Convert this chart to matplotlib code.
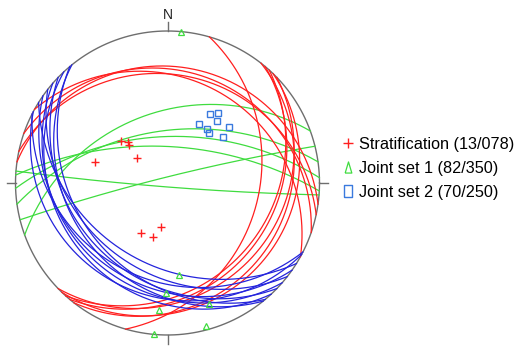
import numpy as np
import matplotlib.pyplot as plt
from matplotlib.lines import Line2D

plt.rcParams['font.family'] = ['Liberation Sans', 'DejaVu Sans']

# great circles: dip direction / dip (deg)
strat_dipdir = [8, 12, 19, 29, 106, 128, 130, 132, 134, 136]
strat_dip = [15, 19, 17, 21, 28, 14, 20, 22, 12, 17]
joint1_dipdir = [340, 346, 352, 358, 3, 184.5]
joint1_dip = [40, 85.5, 52, 56, 63, 87]
joint2_dipdir = [207, 208, 212, 215, 218, 221, 224, 227, 230, 231]
joint2_dip = [25, 17, 34, 22, 30, 20, 26, 18, 28, 24]

# poles: trend / plunge (deg)
strat_pole_trend = [312, 316, 315, 310, 286, 188, 208, 195]
strat_pole_plunge = [45, 48.6, 51, 60.8, 37.4, 57.4, 48.8, 49.8]
joint1_pole_trend = [5, 173, 181, 161, 184, 165, 185]
joint1_pole_plunge = [0, 27.4, 18, 10, 10.2, 1.4, 0]
joint2_pole_trend = [32, 36, 28, 38.6, 47.8, 36.1, 39.7, 50.5]
joint2_pole_plunge = [34, 30.8, 42.4, 34.8, 32.4, 42.8, 43.4, 39.2]

labels = ['Stratification (13/078)', 'Joint set 1 (82/350)', 'Joint set 2 (70/250)']

RED = '#ff1f1f'
GREEN = '#3fdc3f'
BLUE = '#2424dc'
BLUE_PT = '#3a7ade'
GRAY = '#6e6e6e'


def project(trend, plunge):
    # equal-angle (Wulff), lower hemisphere
    t = np.radians(trend)
    p = np.radians(plunge)
    rho = np.tan((np.pi / 2 - p) / 2)
    return rho * np.sin(t), rho * np.cos(t)


def great_circle(dipdir, dip, n=300):
    dd = np.radians(dipdir)
    d = np.radians(dip)
    th = np.linspace(0, np.pi, n)
    s = np.array([np.sin(dd - np.pi / 2), np.cos(dd - np.pi / 2), 0.0])
    v = np.array([np.cos(d) * np.sin(dd), np.cos(d) * np.cos(dd), np.sin(d)])
    e, nn, down = np.outer(s, np.cos(th)) + np.outer(v, np.sin(th))
    trend = np.degrees(np.arctan2(e, nn))
    plunge = np.degrees(np.arcsin(np.clip(down, -1, 1)))
    return project(trend, plunge)


fig = plt.figure(figsize=(5.19, 3.47), dpi=100)
ax = fig.add_axes([0, 0, 1, 1])
ax.set_xlim(-167.5 / 152, (519 - 167.5) / 152)
ax.set_ylim(-164 / 152, 183 / 152)
ax.axis('off')

# primitive circle + ticks
a = np.linspace(0, 2 * np.pi, 400)
ax.plot(np.cos(a), np.sin(a), color=GRAY, lw=1.0)
tk = 0.057
ax.plot([0, 0], [1, 1 + tk], color=GRAY, lw=1.0)
ax.plot([0, 0], [-1, -1 - tk], color=GRAY, lw=1.0)
ax.plot([-1, -1 - tk], [0, 0], color=GRAY, lw=1.0)
ax.plot([1, 1 + tk], [0, 0], color=GRAY, lw=1.0)
ax.text(0, 1.105, 'N', ha='center', va='center', fontsize=10, color='#222222')

for dd, dp in zip(joint1_dipdir, joint1_dip):
    x, y = great_circle(dd, dp)
    ax.plot(x, y, color=GREEN, lw=0.9)
for dd, dp in zip(strat_dipdir, strat_dip):
    x, y = great_circle(dd, dp)
    ax.plot(x, y, color=RED, lw=0.9)
for dd, dp in zip(joint2_dipdir, joint2_dip):
    x, y = great_circle(dd, dp)
    ax.plot(x, y, color=BLUE, lw=0.9)

x, y = project(strat_pole_trend, strat_pole_plunge)
ax.plot(x, y, ls='none', marker='+', ms=6, mew=1.0, color=RED)
x, y = project(joint1_pole_trend, joint1_pole_plunge)
ax.plot(x, y, ls='none', marker='^', ms=4.8, mew=0.9, mfc='none', mec=GREEN, clip_on=False)
x, y = project(joint2_pole_trend, joint2_pole_plunge)
ax.plot(x, y, ls='none', marker='s', ms=4.8, mew=1.0, mfc='none', mec=BLUE_PT)

# legend with narrow tall symbols like the original
tri = [(-0.3, -0.5), (0.3, -0.5), (0, 0.5), (-0.3, -0.5)]
rect = [(-0.28, -0.5), (0.28, -0.5), (0.28, 0.5), (-0.28, 0.5), (-0.28, -0.5)]
handles = [
    Line2D([], [], ls='none', marker='+', ms=7, mew=1.0, color=RED),
    Line2D([], [], ls='none', marker=tri, ms=8, mew=0.9, mfc='none', mec=GREEN),
    Line2D([], [], ls='none', marker=rect, ms=9, mew=1.0, mfc='none', mec=BLUE_PT),
]
ax.legend(handles, labels, loc='upper left', bbox_to_anchor=(341.5 / 519, 1 - 137 / 347),
          frameon=False, fontsize=11.7, handlelength=0.8, handletextpad=0.25,
          labelspacing=0.55, borderpad=0, borderaxespad=0)

fig.savefig('out.png', dpi=100)
